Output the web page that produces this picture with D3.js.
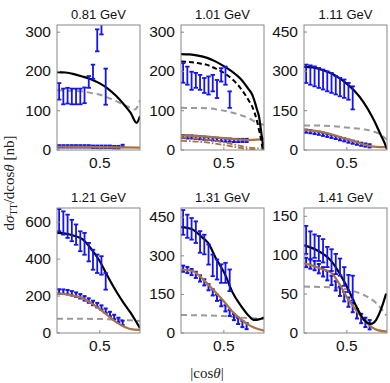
<!DOCTYPE html>
<html><head><meta charset="utf-8">
<script src="https://cdn.jsdelivr.net/npm/d3@7"></script>
<style>body{margin:0;background:#fff}svg{display:block}</style>
</head><body>
<script>
// ---------- data ----------
const energies = ["0.81 GeV","1.01 GeV","1.11 GeV","1.21 GeV","1.31 GeV","1.41 GeV"];
const yMax = [317, 317, 475, 674, 484, 160];
const yTicks = [[0,100,200,300],[0,100,200,300],[0,150,300,450],[0,200,400,600],[0,150,300,450],[0,50,100,150]];
const xTicks = [0.5];
const xUpper = [0.025,0.075,0.125,0.175,0.225,0.275,0.325,0.375,0.425,0.475,0.525,0.575];
const xLower = [0.025,0.075,0.125,0.175,0.225,0.275,0.325,0.375,0.425,0.475,0.525,0.575,0.625,0.675,0.725,0.775];

const upperVal = [
  [148,135,137,135,135,135,138,172,198,278,318,160],
  [195,188,175,176,171,163,163,169,154,190,188,127],
  [289,284,279,273,267,260,254,245,238,232,222,197],
  [608,593,575,552,530,494,480,435,394,372,363,277],
  [428,413,403,390,352,342,303,261,245,229,232,203],
  [119,112,111,108,105,97,93,88,84,72,63,57]
];
const upperErr = [
  [21,20,20,20,20,20,20,15,18,28,25,46],
  [25,23,23,19,19,19,23,21,23,17,23,21],
  [35,37,38,38,38,38,38,35,35,35,32,44],
  [60,63,63,58,55,54,59,50,54,50,50,45],
  [48,45,42,42,42,38,39,42,39,36,39,42],
  [18,18,15,16,15,13,14,13,11,12,11,16]
];
const lowerVal = [
  [8,8,8,8,8,8,8,8,7,7,7,7,7,6,6,9],
  [33,32,32,31,30,29,28,27,26,25,24,24,23,23,23,23],
  [70,68,65,62,58,54,50,46,41,37,32,28,24,20,17,14],
  [222,221,218,212,205,196,185,173,160,148,135,118,100,84,68,52],
  [248,243,235,224,210,195,176,156,135,114,94,76,60,45,33,25],
  [90,88,86,82,78,73,67,60,53,46,39,32,24,18,13,10]
];
const lowerErr = [3, 4, 6, 12, 12, 6];

// model curves: [|cos θ|, value]
const blackSolid = [
  [[0,197],[0.1,196],[0.2,192],[0.3,186],[0.4,179],[0.5,169],[0.6,155],[0.7,136],[0.8,112],[0.87,93],[0.94,68],[0.98,85]],
  [[0,243],[0.1,242],[0.2,239],[0.3,234],[0.4,225],[0.5,213],[0.6,199],[0.7,181],[0.8,153],[0.84,140],[0.9,100],[0.92,85],[0.95,40],[0.968,13],[0.975,0]],
  [[0,315],[0.1,313],[0.2,305],[0.3,294],[0.4,276],[0.5,252],[0.6,222],[0.7,182],[0.8,128],[0.86,89],[0.9,60],[0.95,26],[0.98,0]],
  [[0,539],[0.1,535],[0.2,524],[0.3,505],[0.4,455],[0.5,390],[0.6,303],[0.7,222],[0.8,151],[0.87,106],[0.93,62],[0.98,24]],
  [[0,410],[0.07,407],[0.14,400],[0.2,385],[0.25,370],[0.32,348],[0.41,290],[0.52,226],[0.61,155],[0.71,103],[0.8,65],[0.86,49],[0.92,51],[0.98,58]],
  [[0,112],[0.13,107],[0.32,92],[0.42,76],[0.52,56],[0.62,33],[0.71,16],[0.79,11],[0.85,16],[0.91,30],[0.97,50]]
];
const grayDashed = [
  [[0,151],[0.1,150],[0.2,149],[0.3,148],[0.4,144],[0.5,140],[0.6,132],[0.7,123],[0.8,112],[0.87,106],[0.92,102],[0.98,125]],
  [[0,106],[0.3,105],[0.5,99],[0.7,88],[0.8,80],[0.9,68],[0.98,63]],
  [[0,92],[0.3,90],[0.5,84],[0.7,77],[0.8,71],[0.86,64],[0.9,58],[0.95,45],[0.98,38]],
  [[0,75],[0.5,73],[0.7,70],[0.85,66],[0.98,62]],
  [[0,68],[0.5,64],[0.7,58],[0.85,55],[0.98,52]],
  [[0,59],[0.32,58],[0.52,55],[0.71,48],[0.86,37],[0.93,28],[0.97,22]]
];
const brownSolid = [
  [[0,7],[0.5,6],[0.98,5]],
  [[0,36],[0.2,34],[0.4,31],[0.6,27],[0.8,24],[0.9,25],[0.98,28]],
  [[0,74],[0.1,72],[0.2,67],[0.3,60],[0.4,50],[0.5,40],[0.6,30],[0.7,20],[0.8,12],[0.9,9],[0.98,10]],
  [[0,210],[0.1,207],[0.2,199],[0.3,187],[0.4,160],[0.5,128],[0.6,92],[0.7,56],[0.8,30],[0.87,18],[0.98,14]],
  [[0,245],[0.14,239],[0.2,225],[0.32,187],[0.42,152],[0.52,116],[0.6,84],[0.71,51],[0.86,19],[0.98,7]],
  [[0,89],[0.1,86],[0.2,82],[0.32,77],[0.42,62],[0.52,43],[0.62,28],[0.71,16],[0.8,7],[0.87,3],[0.98,1]]
];
// extra curves in the 1.01 GeV panel
const blackDashed101 = [[0,224],[0.1,223],[0.2,220],[0.3,216],[0.4,207],[0.5,196],[0.6,180],[0.7,157],[0.8,125],[0.84,110],[0.9,70],[0.92,51],[0.95,20],[0.96,5]];
const brownDashDotA101 = [[0,30],[0.2,28],[0.4,22],[0.6,14],[0.7,9],[0.8,5],[0.9,3],[0.98,2]];
const brownDashDotB101 = [[0,22],[0.2,20],[0.4,15],[0.6,8],[0.7,4],[0.8,1],[0.9,0]];

// ---------- layout ----------
const W = 390, H = 383;
const colLeft = [57, 181, 304], rowTop = [25, 208];
const pw = 83, ph = 125;
const BLUE = "#1414f0", BROWN = "#a8733e", GRAY = "#9a9a9a";

const svg = d3.select("body").append("svg").attr("width", W).attr("height", H);

energies.forEach((title, i) => {
  const r = Math.floor(i / 3), c = i % 3;
  const left = colLeft[c], top = rowTop[r];
  const x = d3.scaleLinear().domain([0, 0.98]).range([left, left + pw]);
  const y = d3.scaleLinear().domain([0, yMax[i]]).range([top + ph - 0.5, top]);
  const g = svg.append("g");

  const clipId = "clip" + i;
  svg.append("clipPath").attr("id", clipId).append("rect")
    .attr("x", left).attr("y", top).attr("width", pw).attr("height", ph);
  const pg = g.append("g").attr("clip-path", `url(#${clipId})`);

  const line = d3.line().x(d => x(d[0])).y(d => y(d[1])).curve(d3.curveMonotoneX);

  // gray dashed
  pg.append("path").attr("d", line(grayDashed[i])).attr("fill", "none")
    .attr("stroke", GRAY).attr("stroke-width", 2).attr("stroke-dasharray", "6,4");

  // brown solid
  const brownPath = () => pg.append("path").attr("d", line(brownSolid[i])).attr("fill", "none")
    .attr("stroke", BROWN).attr("stroke-width", 2.2);

  // error bars
  function bars(xs, vals, errs, sw, cap) {
    xs.forEach((xv, k) => {
      const v = vals[k]; if (v == null) return;
      const e = Array.isArray(errs) ? errs[k] : errs;
      const px = x(xv);
      pg.append("line").attr("x1", px).attr("x2", px).attr("y1", y(v - e)).attr("y2", y(v + e))
        .attr("stroke", BLUE).attr("stroke-width", sw);
      [v - e, v + e].forEach(t => pg.append("line").attr("x1", px - cap).attr("x2", px + cap)
        .attr("y1", y(t)).attr("y2", y(t)).attr("stroke", BLUE).attr("stroke-width", sw));
    });
  }
  bars(xLower, lowerVal[i], lowerErr[i], 2, 2);
  brownPath();
  if (i === 1) {
    pg.append("path").attr("d", line(brownDashDotA101)).attr("fill", "none")
      .attr("stroke", BROWN).attr("stroke-width", 1.8).attr("stroke-dasharray", "6,2,1.5,2");
    pg.append("path").attr("d", line(brownDashDotB101)).attr("fill", "none")
      .attr("stroke", BROWN).attr("stroke-width", 1.8).attr("stroke-dasharray", "6,2,1.5,2");
    pg.append("path").attr("d", line(blackDashed101)).attr("fill", "none")
      .attr("stroke", "#000").attr("stroke-width", 2).attr("stroke-dasharray", "5,3");
  }
  pg.append("path").attr("d", line(blackSolid[i])).attr("fill", "none")
    .attr("stroke", "#000").attr("stroke-width", 2.2);
  bars(xUpper, upperVal[i], upperErr[i], 1.8, 2.2);

  // frame
  g.append("rect").attr("x", left).attr("y", top).attr("width", pw).attr("height", ph)
    .attr("fill", "none").attr("stroke", "#888").attr("stroke-width", 1);

  // axes ticks (inside)
  const yAxis = d3.axisLeft(y).tickValues(yTicks[i]).tickSizeInner(-3).tickSizeOuter(0).tickPadding(6);
  const ya = g.append("g").attr("transform", `translate(${left},0)`).call(yAxis);
  ya.select(".domain").remove();
  ya.selectAll("line").attr("stroke", "#888");
  ya.selectAll("text").attr("font-family", "Liberation Sans, Arial, sans-serif").attr("font-size", 15.5).attr("fill", "#111");

  const xAxis = d3.axisBottom(x).tickValues(xTicks).tickFormat(d3.format(".1f")).tickSizeInner(-3).tickSizeOuter(0).tickPadding(7);
  const xa = g.append("g").attr("transform", `translate(0,${top + ph})`).call(xAxis);
  xa.select(".domain").remove();
  xa.selectAll("line").attr("stroke", "#888");
  xa.selectAll("text").attr("font-family", "Liberation Sans, Arial, sans-serif").attr("font-size", 15.5).attr("fill", "#111");

  g.append("text").attr("x", left + pw / 2).attr("y", top - 6).attr("text-anchor", "middle")
    .attr("font-family", "Liberation Sans, Arial, sans-serif").attr("font-size", 13).attr("fill", "#111").text(title);
});

// axis titles
const xt = svg.append("text").attr("x", 207).attr("y", 378).attr("text-anchor", "middle")
  .attr("font-family", "Liberation Serif, Times New Roman, serif").attr("font-size", 15).attr("fill", "#222");
xt.append("tspan").text("|cos");
xt.append("tspan").attr("font-style", "italic").text("θ");
xt.append("tspan").text("|");

const yt = svg.append("text").attr("transform", "translate(14,183) rotate(-90)").attr("text-anchor", "middle")
  .attr("font-family", "Liberation Serif, Times New Roman, serif").attr("font-size", 15).attr("fill", "#222");
yt.append("tspan").text("d");
yt.append("tspan").attr("font-style", "italic").text("σ");
yt.append("tspan").attr("font-size", 10).attr("dy", 3).text("TT");
yt.append("tspan").attr("dy", -3).text("/dcos");
yt.append("tspan").attr("font-style", "italic").text("θ");
yt.append("tspan").text(" [nb]");
</script>
</body></html>
